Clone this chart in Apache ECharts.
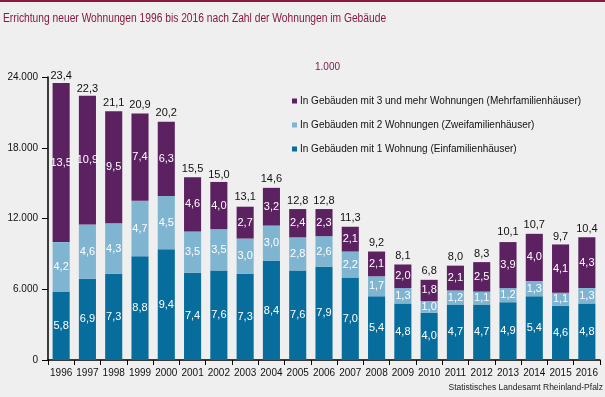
<!DOCTYPE html>
<html>
<head>
<meta charset="utf-8">
<script src="https://cdn.jsdelivr.net/npm/echarts@6/dist/echarts.min.js"></script>
<style>
  html, body { margin: 0; padding: 0; background: #eeefee; }
  #chart { width: 605px; height: 397px; }
</style>
</head>
<body>
<div id="chart"></div>
<script>
// Werte in 1.000 Wohnungen
var years = ['1996', '1997', '1998', '1999', '2000', '2001', '2002', '2003', '2004', '2005', '2006',
    '2007', '2008', '2009', '2010', '2011', '2012', '2013', '2014', '2015', '2016'];
var einfam = [5.8, 6.9, 7.3, 8.8, 9.4, 7.4, 7.6, 7.3, 8.4, 7.6, 7.9, 7.0, 5.4, 4.8, 4.0, 4.7, 4.7, 4.9, 5.4, 4.6, 4.8];
var zweifam = [4.2, 4.6, 4.3, 4.7, 4.5, 3.5, 3.5, 3.0, 3.0, 2.8, 2.6, 2.2, 1.7, 1.3, 1.0, 1.2, 1.1, 1.2, 1.3, 1.1, 1.3];
var mehrfam = [13.5, 10.9, 9.5, 7.4, 6.3, 4.6, 4.0, 2.7, 3.2, 2.4, 2.3, 2.1, 2.1, 2.0, 1.8, 2.1, 2.5, 3.9, 4.0, 4.1, 4.3];
var gesamt = [23.4, 22.3, 21.1, 20.9, 20.2, 15.5, 15.0, 13.1, 14.6, 12.8, 12.8, 11.3, 9.2, 8.1, 6.8, 8.0, 8.3, 10.1, 10.7, 9.7, 10.4];
var yTicks = [0, 6, 12, 18, 24];

var names = [
    'In Gebäuden mit 3 und mehr Wohnungen (Mehrfamilienhäuser)',
    'In Gebäuden mit 2 Wohnungen (Zweifamilienhäuser)',
    'In Gebäuden mit 1 Wohnung (Einfamilienhäuser)'
];

var fmt = function (v) { return v.toFixed(1).replace('.', ','); };
var font = 'Liberation Sans, Arial, sans-serif';
var bw = '65%';

var myChart = echarts.init(document.getElementById('chart'));

var innerLabel = {
    show: true,
    position: 'inside',
    color: '#ffffff',
    fontFamily: font,
    fontSize: 11,
    formatter: function (p) { return fmt(p.value); }
};

var option = {
    backgroundColor: '#eeefee',
    animation: false,
    graphic: [
        { type: 'rect', left: 0, top: 0, shape: { width: 605, height: 2 }, style: { fill: '#8b1a3c' } },
        // Titel etwas schmaler laufen lassen
        { type: 'text', x: 3, y: 12, scaleX: 0.82, style: { text: 'Errichtung neuer Wohnungen 1996 bis 2016 nach Zahl der Wohnungen im Gebäude', fill: '#8b1a3c', font: '12.5px ' + font } },
        { type: 'text', left: 315, top: 62, style: { text: '1.000', fill: '#7a2050', font: '10px ' + font } },
        { type: 'text', right: 2, top: 383, style: { text: 'Statistisches Landesamt Rheinland-Pfalz', fill: '#222', font: '8.5px ' + font } }
    ],
    legend: {
        data: names,
        orient: 'vertical',
        left: 287,
        top: 91,
        itemWidth: 5,
        itemHeight: 5,
        itemGap: 14,
        icon: 'rect',
        textStyle: { fontFamily: font, fontSize: 10, color: '#111', padding: [0, 0, 0, -2] },
        selectedMode: false
    },
    grid: { left: 48, right: 5, top: 77, bottom: 37 },
    xAxis: {
        type: 'category',
        data: years,
        axisLine: { lineStyle: { color: '#000', width: 1.5 } },
        axisTick: { show: true, length: 5, lineStyle: { color: '#000' } },
        axisLabel: { color: '#111', fontFamily: font, fontSize: 10, margin: 8, interval: 0 }
    },
    yAxis: {
        type: 'value',
        min: yTicks[0],
        max: yTicks[yTicks.length - 1],
        interval: 6,
        splitLine: { show: false },
        axisLine: { show: true, lineStyle: { color: '#000', width: 1.5 } },
        axisTick: { show: true, length: 6, lineStyle: { color: '#000' } },
        axisLabel: {
            color: '#111', fontFamily: font, fontSize: 10, margin: 10,
            formatter: function (v) { return v === 0 ? '0' : (v + '.000'); }
        }
    },
    series: [
        {
            name: names[2], type: 'bar', stack: 'w', barWidth: bw,
            itemStyle: { color: '#076d9d' }, label: innerLabel, data: einfam
        },
        {
            name: names[1], type: 'bar', stack: 'w', barWidth: bw,
            itemStyle: { color: '#80b5d1' }, label: innerLabel, data: zweifam
        },
        {
            name: names[0], type: 'bar', stack: 'w', barWidth: bw,
            itemStyle: { color: '#5b2160' }, label: innerLabel, data: mehrfam
        },
        {
            name: 'Insgesamt', type: 'bar', barWidth: bw, barGap: '-100%', silent: true, z: 1,
            itemStyle: { color: 'rgba(0,0,0,0)' },
            label: {
                show: true, position: 'top', distance: 3, color: '#111',
                fontFamily: font, fontSize: 11,
                formatter: function (p) { return fmt(p.value); }
            },
            data: gesamt
        }
    ]
};

myChart.setOption(option);
</script>
</body>
</html>
